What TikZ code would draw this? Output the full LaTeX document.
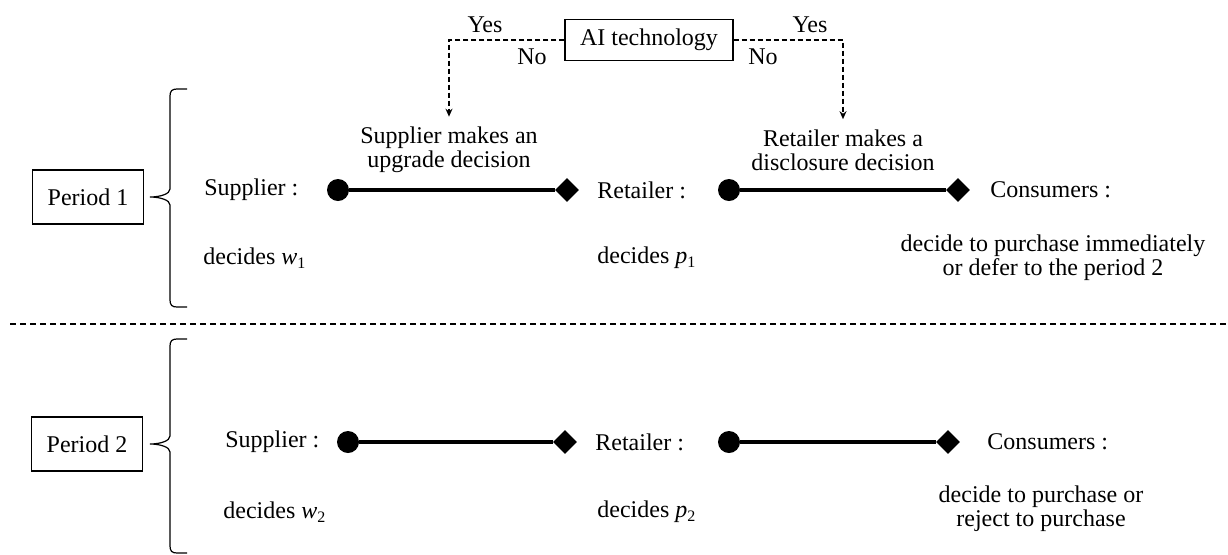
\documentclass[tikz,border=0pt]{standalone}
\usepackage{fontspec}
\setmainfont{Liberation Serif}
\usetikzlibrary{arrows.meta,shapes.geometric,positioning}

\begin{document}
\begin{tikzpicture}[x=0.5pt,y=-0.5pt,
		every node/.style={font=\fontsize{12}{12}\selectfont,inner sep=0pt},
		box/.style={draw,line width=0.7pt,minimum width=55.5pt,minimum height=27pt},
		dot/.style={circle,fill,minimum size=11pt},
		diam/.style={diamond,fill,minimum size=12pt},
		link/.style={line width=2.2pt},
		choice/.style={line width=0.7pt,dash pattern=on 2.5pt off 1.5pt},
		note/.style={align=center,inner sep=5pt}]
	\useasboundingbox (0,0) rectangle (1228,554);

	% period boxes and the technology switch
	\node[box] (per1) at (88,197) {Period 1};
	\node[box] (per2) at (87,444) {Period 2};
	\node[box,minimum width=84pt,minimum height=20.5pt] (ai) at (649,40) {AI technology};

	% braces
	\foreach \ya/\yb/\yc in {89/197/307, 339/444/553}
		\draw[line width=0.6pt] (187,\ya) -- (177,\ya) .. controls (172,\ya) and (170,\ya+2) .. (170,\ya+7)
			-- (170,\yb-8) .. controls (170,\yb-3) and (160,\yb) .. (150,\yb)
			.. controls (160,\yb) and (170,\yb+3) .. (170,\yb+8)
			-- (170,\yc-7) .. controls (170,\yc-2) and (172,\yc) .. (177,\yc) -- (187,\yc);

	% period 1
	\node[anchor=west] (sup1) at (204,190) {Supplier :};
	\node[dot] (sdot1) at (338,190) {};
	\node[diam] (rtip1) at (567,190) {};
	\node[anchor=west] (ret1) at (597,190) {Retailer :};
	\node[dot] (rdot1) at (729,190) {};
	\node[diam] (ctip1) at (958,190) {};
	\node[anchor=west] (con1) at (990,190) {Consumers :};
	\draw[link] (sdot1) -- (rtip1);
	\draw[link] (rdot1) -- (ctip1);

	\node[note] (up1) at (449,150) {Supplier makes an\\upgrade decision};
	\node[note] (up2) at (843,150) {Retailer makes a\\disclosure decision};

	\node[anchor=west] (w1) at (203,258) {decides \textit{w}\textsubscript{1}};
	\node[anchor=west] (p1) at (597,258) {decides \textit{p}\textsubscript{1}};
	\node[align=center] (buy1) at (1053,258) {decide to purchase immediately\\or defer to the period 2};

	% yes / no branches
	\draw[choice,-{Stealth[length=4pt,width=3.5pt]}] (ai.west) -| (up1.north);
	\draw[choice,-{Stealth[length=4pt,width=3.5pt]}] (ai.east) -| (up2.north);
	\node (yes1) at (485,25) {Yes};
	\node (no1) at (532,57) {No};
	\node (yes2) at (810,25) {Yes};
	\node (no2) at (763,57) {No};

	\draw[line width=0.7pt,dash pattern=on 3pt off 2pt] (10,324) -- (1228,324);

	% period 2
	\node[anchor=west] (sup2) at (225,442) {Supplier :};
	\node[dot] (sdot2) at (348,442) {};
	\node[diam] (rtip2) at (565,442) {};
	\node[anchor=west] (ret2) at (595,442) {Retailer :};
	\node[dot] (rdot2) at (729,442) {};
	\node[diam] (ctip2) at (948,442) {};
	\node[anchor=west] (con2) at (987,442) {Consumers :};
	\draw[link] (sdot2) -- (rtip2);
	\draw[link] (rdot2) -- (ctip2);

	\node[anchor=west] (w2) at (223,512) {decides \textit{w}\textsubscript{2}};
	\node[anchor=west] (p2) at (597,512) {decides \textit{p}\textsubscript{2}};
	\node[align=center] (buy2) at (1041,509) {decide to purchase or\\reject to purchase};
\end{tikzpicture}
\end{document}
